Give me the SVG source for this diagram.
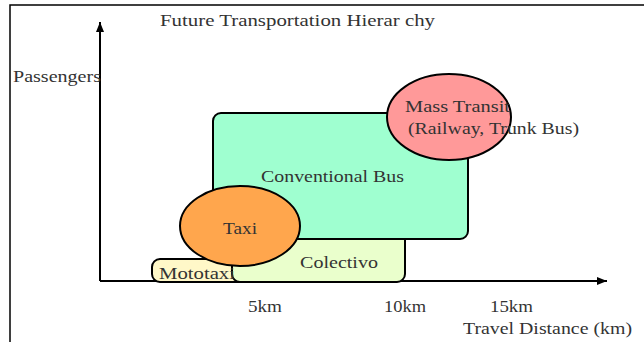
<svg xmlns="http://www.w3.org/2000/svg" width="644" height="342" viewBox="0 0 644 342">
<defs>
<marker id="arr" viewBox="0 0 10 10" refX="10" refY="5" markerWidth="10" markerHeight="10" markerUnits="userSpaceOnUse" orient="auto"><path d="M0,1 L10,5 L0,9 z" fill="#000"/></marker>
<style>
text{font-family:"Liberation Serif","DejaVu Serif",serif;font-size:17px;fill:#333}
.n{stroke:#000;stroke-width:2}
.ax{stroke:#000;stroke-width:2;fill:none}
</style>
</defs>
<rect x="10" y="5" width="640" height="345" fill="#fff" stroke="#000" stroke-width="1.5"/>
<g id="connectors">
<line class="ax" x1="100" y1="281" x2="100" y2="22" marker-end="url(#arr)"/>
<line class="ax" x1="100" y1="281" x2="607" y2="281" marker-end="url(#arr)"/>
</g>
<text x="160" y="26" textLength="275" lengthAdjust="spacingAndGlyphs">Future Transportation Hierar chy</text>
<text x="13" y="82" textLength="88" lengthAdjust="spacingAndGlyphs">Passengers</text>
<g id="mototaxi">
<rect class="n" x="152" y="259" width="100" height="23" rx="8" fill="#fff8c8"/>
</g>
<g id="colectivo">
<rect class="n" x="232" y="230" width="173" height="52" rx="8" fill="#eaffcc"/>
<text x="300" y="268" textLength="78" lengthAdjust="spacingAndGlyphs">Colectivo</text>
</g>
<text x="159" y="279" textLength="76" lengthAdjust="spacingAndGlyphs">Mototaxi</text>
<g id="conventional-bus">
<rect class="n" x="213" y="113" width="255" height="126" rx="8" fill="#9fffd0"/>
<text x="261" y="182" textLength="143" lengthAdjust="spacingAndGlyphs">Conventional Bus</text>
</g>
<g id="taxi">
<ellipse class="n" cx="240" cy="226" rx="60" ry="40" fill="#ffa64d"/>
<text x="240" y="234" text-anchor="middle" textLength="34" lengthAdjust="spacingAndGlyphs">Taxi</text>
</g>
<g id="mass-transit">
<ellipse class="n" cx="449" cy="117" rx="62" ry="43" fill="#ff9999"/>
<text x="405" y="112" textLength="105" lengthAdjust="spacingAndGlyphs">Mass Transit</text>
<text x="408" y="134" textLength="171" lengthAdjust="spacingAndGlyphs">(Railway, Trunk Bus)</text>
</g>
<text x="248" y="312" textLength="34" lengthAdjust="spacingAndGlyphs">5km</text>
<text x="384" y="312" textLength="42" lengthAdjust="spacingAndGlyphs">10km</text>
<text x="490" y="312" textLength="43" lengthAdjust="spacingAndGlyphs">15km</text>
<text x="463" y="334" textLength="169" lengthAdjust="spacingAndGlyphs">Travel Distance (km)</text>
</svg>
